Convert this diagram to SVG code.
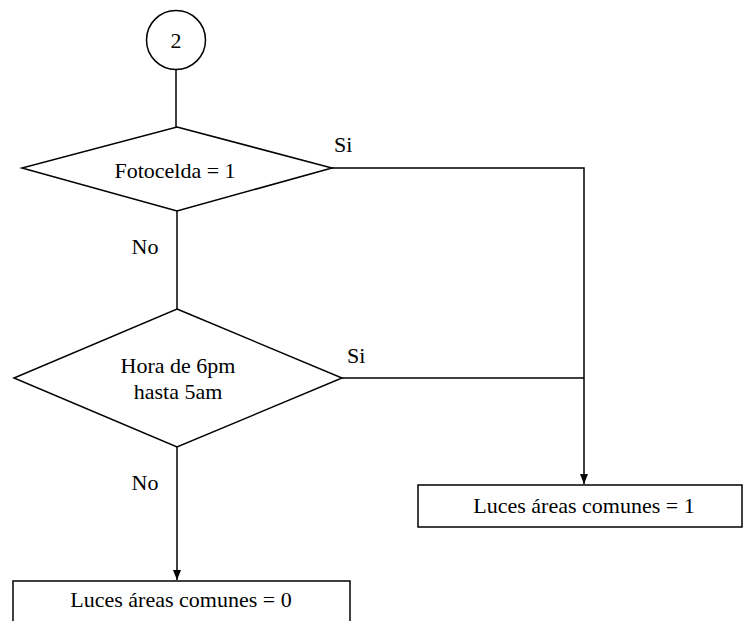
<svg xmlns="http://www.w3.org/2000/svg" width="743" height="621" viewBox="0 0 743 621">
<defs>
<style>
.s{fill:#fff;stroke:#000;stroke-width:1.5}
.l{fill:none;stroke:#000;stroke-width:1.5}
.t{font-family:'Liberation Serif',Tinos,'Times New Roman',Times,serif;font-size:22px;fill:#000}
.c{text-anchor:middle}
</style>
<marker id="ah" viewBox="0 0 10 10" refX="10" refY="5" markerWidth="10" markerHeight="10" markerUnits="userSpaceOnUse" orient="auto">
<path d="M0,1 L10,5 L0,9 Z" fill="#000"/>
</marker>
</defs>
<g id="connectors">
<line class="l" x1="176" y1="70" x2="176" y2="127"/>
<line class="l" x1="177" y1="211" x2="177" y2="309"/>
<polyline class="l" points="332,168 584,168 584,484" marker-end="url(#ah)"/>
<line class="l" x1="342" y1="378" x2="584" y2="378"/>
<line class="l" x1="177" y1="447" x2="177" y2="580" marker-end="url(#ah)"/>
<text class="t" x="334" y="152">Si</text>
<text class="t" x="347" y="363">Si</text>
<text class="t c" x="145" y="254">No</text>
<text class="t c" x="145" y="490">No</text>
</g>
<g id="start">
<circle class="s" cx="176" cy="40" r="29.5"/>
<text class="t c" x="176" y="48">2</text>
</g>
<g id="dec1">
<polygon class="s" points="177,127 332,168 177,211 22,168"/>
<text class="t c" x="175" y="178">Fotocelda = 1</text>
</g>
<g id="dec2">
<polygon class="s" points="177,309 342,378 177,447 14,378"/>
<text class="t c" x="178" y="373">Hora de 6pm</text>
<text class="t c" x="178" y="399">hasta 5am</text>
</g>
<g id="out1">
<rect class="s" x="418" y="485" width="324" height="42"/>
<text class="t c" x="584" y="513">Luces áreas comunes = 1</text>
</g>
<g id="out0">
<rect class="s" x="13" y="581" width="337" height="42"/>
<text class="t c" x="181" y="607">Luces áreas comunes = 0</text>
</g>
</svg>
